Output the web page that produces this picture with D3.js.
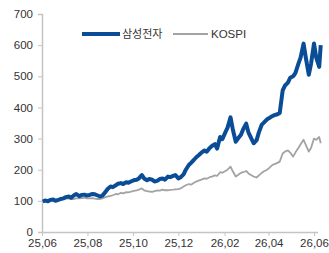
<!DOCTYPE html>
<html>
<head>
<meta charset="utf-8">
<script src="https://cdn.jsdelivr.net/npm/d3@7"></script>
<style>
  body { margin: 0; background: #fff; }
  text { font-family: "Liberation Sans", Arial, sans-serif; fill: #333; }
</style>
</head>
<body>
<div id="chart"></div>
<script>
// twice-weekly observations (Mon / Thu)
const dates = [
  "2025-06-02","2025-06-05","2025-06-09","2025-06-12","2025-06-16","2025-06-19","2025-06-23","2025-06-26",
  "2025-06-30","2025-07-03","2025-07-07","2025-07-10","2025-07-14","2025-07-17","2025-07-21","2025-07-24",
  "2025-07-28","2025-07-31","2025-08-04","2025-08-07","2025-08-11","2025-08-14","2025-08-18","2025-08-21",
  "2025-08-25","2025-08-28","2025-09-01","2025-09-04","2025-09-08","2025-09-11","2025-09-15","2025-09-18",
  "2025-09-22","2025-09-25","2025-09-29","2025-10-02","2025-10-06","2025-10-09","2025-10-13","2025-10-16",
  "2025-10-20","2025-10-23","2025-10-27","2025-10-30","2025-11-03","2025-11-06","2025-11-10","2025-11-13",
  "2025-11-17","2025-11-20","2025-11-24","2025-11-27","2025-12-01","2025-12-04","2025-12-08","2025-12-11",
  "2025-12-15","2025-12-18","2025-12-22","2025-12-25","2025-12-29","2026-01-01","2026-01-05","2026-01-08",
  "2026-01-12","2026-01-15","2026-01-19","2026-01-22","2026-01-26","2026-01-29","2026-02-02","2026-02-05",
  "2026-02-09","2026-02-12","2026-02-16","2026-02-19","2026-02-23","2026-02-26","2026-03-02","2026-03-05",
  "2026-03-09","2026-03-12","2026-03-16","2026-03-19","2026-03-23","2026-03-26","2026-03-30","2026-04-02",
  "2026-04-06","2026-04-09","2026-04-13","2026-04-16","2026-04-20","2026-04-23","2026-04-27","2026-04-30",
  "2026-05-04","2026-05-07","2026-05-11","2026-05-14","2026-05-18","2026-05-21","2026-05-25","2026-05-28",
  "2026-06-01","2026-06-04","2026-06-08","2026-06-10"];
const samsung = [
  98,101, 99,103, 104,100, 103,106, 108,112, 114,110, 118,122, 115,119,
  120,117, 119,122, 121,118, 114,117, 128,138, 146,144, 150,155, 157,154,
  160,158, 163,166, 168,172, 183,172, 166,170, 168,162, 165,170, 172,168,
  178,176, 180,183, 172,176, 185,200, 215,222, 232,240, 248,255, 262,258,
  270,276, 282,268, 305,298, 320,335, 368,330, 290,300, 312,330, 348,320,
  300,285, 295,320, 345,352, 362,366, 372,375, 378,382, 455,470, 480,495,
  500,510, 540,560, 605,560, 505,540, 605,560, 530,600];
const kospi = [
  100,101, 102,103, 103,104, 105,106, 106,107, 108,106, 106,108, 108,109,
  110,108, 108,109, 107,106, 106,108, 112,114, 116,118, 122,121, 126,124,
  128,127, 130,132, 134,136, 140,134, 131,130, 129,131, 134,133, 136,134,
  134,135, 136,137, 138,140, 146,150, 154,152, 158,162, 166,168, 172,171,
  176,178, 182,180, 192,190, 196,200, 210,195, 178,183, 190,192, 196,188,
  182,178, 175,182, 190,195, 200,206, 215,218, 222,226, 252,258, 262,255,
  242,255, 270,282, 296,280, 258,270, 300,296, 305,285];
const seriesNames = ["삼성전자", "KOSPI"];
const yTicks = [0, 100, 200, 300, 400, 500, 600, 700];
const xTickDates = ["2025-06-01","2025-08-01","2025-10-01","2025-12-01","2026-02-01","2026-04-01","2026-06-01"];

const W = 329, H = 253;
const margin = { top: 14, right: 15, bottom: 21, left: 42 };
const parse = d3.timeParse("%Y-%m-%d");

const svg = d3.select("#chart").append("svg")
  .attr("width", W).attr("height", H);

const x = d3.scaleTime()
  .domain([parse("2025-06-01"), parse("2026-06-01")])
  .range([margin.left, 314]);
const y = d3.scaleLinear()
  .domain([0, 700])
  .range([H - margin.bottom, margin.top]);

// axes
const yAxis = svg.append("g")
  .attr("transform", `translate(${margin.left},0)`)
  .call(d3.axisLeft(y).tickValues(yTicks).tickSize(4).tickPadding(5));
const xAxis = svg.append("g")
  .attr("transform", `translate(0,${y(0)})`)
  .call(d3.axisBottom(x).tickValues(xTickDates.map(parse)).tickSize(4).tickPadding(3)
    .tickFormat(d3.timeFormat("%y,%m")));
xAxis.select(".domain").attr("d", `M${margin.left},0.5H${W - 11}`);

[yAxis, xAxis].forEach(g => {
  g.select(".domain").attr("stroke", "#c4c4c4").attr("stroke-width", 1.5);
  g.selectAll(".tick line").attr("stroke", "#c4c4c4");
  g.selectAll(".tick text").attr("font-size", 11.5).style("fill", "#333");
});

const line = vals => d3.line()
  .x((d, i) => x(parse(dates[i])))
  .y(d => y(d))(vals);

svg.append("path")
  .attr("d", line(kospi))
  .attr("fill", "none")
  .attr("stroke", "#a3a3a3")
  .attr("stroke-width", 1.8)
  .attr("stroke-linejoin", "round");

svg.append("path")
  .attr("d", line(samsung))
  .attr("fill", "none")
  .attr("stroke", "#0b4c97")
  .attr("stroke-width", 4)
  .attr("stroke-linejoin", "round");

// legend
const legend = svg.append("g");
legend.append("line").attr("x1", 82).attr("x2", 120).attr("y1", 34).attr("y2", 34)
  .attr("stroke", "#0b4c97").attr("stroke-width", 4);
legend.append("text").attr("x", 122).attr("y", 38).attr("font-size", 11)
  .style("font-family", "'Noto Sans CJK KR', sans-serif").text(seriesNames[0]);
legend.append("line").attr("x1", 173).attr("x2", 208).attr("y1", 34).attr("y2", 34)
  .attr("stroke", "#a3a3a3").attr("stroke-width", 1.8);
legend.append("text").attr("x", 211).attr("y", 38).attr("font-size", 11.5).text(seriesNames[1]);
</script>
</body>
</html>
